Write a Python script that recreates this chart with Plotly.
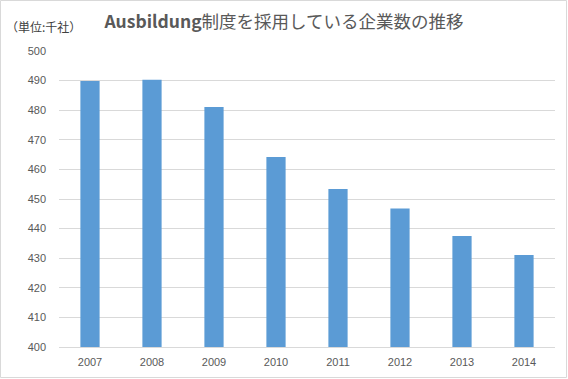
import plotly.graph_objects as go

years = ["2007", "2008", "2009", "2010", "2011", "2012", "2013", "2014"]
companies = [489.9, 490.3, 481.1, 464.2, 453.4, 446.8, 437.5, 431.1]
y_ticks = [400, 410, 420, 430, 440, 450, 460, 470, 480, 490, 500]

W, H = 568, 379
L, R, T, B = 59, 13, 51, 32
pw, ph = W - L - R, H - T - B

fig = go.Figure(go.Bar(
    x=years, y=companies, width=0.31,
    marker=dict(color="#5B9BD5", line=dict(width=0)),
))

fig.update_layout(
    width=W, height=H,
    margin=dict(l=L, r=R, t=T, b=B),
    paper_bgcolor="white", plot_bgcolor="white",
    showlegend=False,
    font=dict(family="Noto Sans CJK JP, Liberation Sans, sans-serif", color="#595959", size=11),
    title=dict(
        text="<b>Ausbildung</b>制度を採用している企業数の推移",
        x=0.5, xanchor="center", y=1 - 22 / H, yanchor="middle",
        font=dict(size=17.5, color="#595959", family="Noto Sans CJK JP, sans-serif"),
    ),
    xaxis=dict(
        showgrid=False, showline=True, linecolor="#d9d9d9", linewidth=1,
        ticks="", ticklabelstandoff=5,
        tickfont=dict(size=11, color="#595959", family="Liberation Sans Narrow, Liberation Sans, sans-serif"),
    ),
    yaxis=dict(
        range=[400, 500], tickvals=y_ticks,
        showgrid=True, gridcolor="#d9d9d9", gridwidth=1,
        zeroline=False, showline=False, ticks="",
        ticklabelstandoff=12,
        tickfont=dict(size=11, color="#595959", family="Liberation Sans Narrow, Liberation Sans, sans-serif"),
    ),
    bargap=0.69,
)

fig.add_annotation(
    text="（単位:千社）", xref="paper", yref="paper",
    x=-(L - 4) / pw, y=1 + (T - 26) / ph, xanchor="left", yanchor="middle",
    showarrow=False, font=dict(size=12, color="#404040", family="Noto Sans CJK JP, sans-serif"),
)

fig.add_shape(
    type="rect", xref="paper", yref="paper",
    x0=-(L - 0.5) / pw, x1=1 + (R - 1.5) / pw,
    y0=-(B - 1.5) / ph, y1=1 + (T - 0.5) / ph,
    line=dict(color="#d9d9d9", width=1), fillcolor="rgba(0,0,0,0)", layer="below",
)

fig.write_html("out.html", config={"displayModeBar": False},
               post_script="document.body.style.margin='0px';")
